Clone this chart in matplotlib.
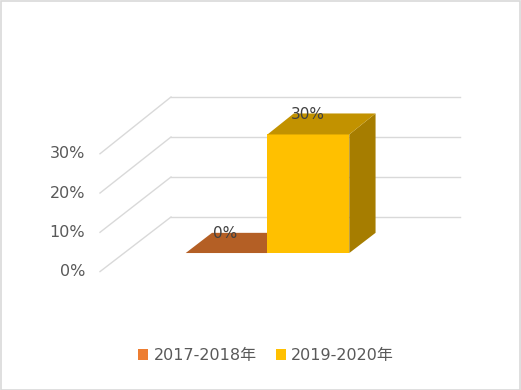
import matplotlib.pyplot as plt
from matplotlib.patches import Polygon, Patch, Rectangle
from matplotlib.colors import to_rgb

plt.rcParams['font.family'] = ['DejaVu Sans', 'Noto Sans CJK SC']

categories = ['2017-2018年', '2019-2020年']
values = [0.0, 0.30]
colors = ['#ED7D31', '#FFC000']
ticks = [0.0, 0.1, 0.2, 0.3]
tick_labels = ['0%', '10%', '20%', '30%']

# oblique projection: depth 0 = back wall, 1 = front edge
DZX = -0.2457
DZY = -0.1365
Z_BACK = 0.29
Z_FRONT = 0.66
BAR_LEFT = 0.213
BAR_W = 0.283
TEXT = '#595959'
GRID = '#D9D9D9'


def proj(x, v, z):
    # slight perspective: front plane is a little compressed vertically
    return x + z * DZX, v * (1 - 0.018 * z) + z * DZY


def shade(c, k):
    r, g, b = to_rgb(c)
    return (r * k, g * k, b * k)


fig = plt.figure(figsize=(5.21, 3.9), dpi=100)
ax = fig.add_axes([0, 0, 1, 1])
ax.set_xlim(-0.5917, 1.211)
ax.set_ylim(-0.4325, 0.5425)
ax.axis('off')

# back wall lines + side wall diagonals
for t, lab in zip(ticks, tick_labels):
    ax.plot([0, 1], [t, t], color=GRID, lw=1, zorder=1)
    fx, fy = proj(0, t, 1)
    ax.plot([0, fx], [t, fy], color=GRID, lw=1, zorder=1)
    ax.annotate(lab, (fx, fy), xytext=(-15, 0), textcoords='offset pixels',
                ha='right', va='center', fontsize=11.5, color=TEXT)

for i, (v, c) in enumerate(zip(values, colors)):
    x0 = BAR_LEFT + i * BAR_W
    x1 = x0 + BAR_W
    top = [proj(x0, v, Z_FRONT), proj(x1, v, Z_FRONT),
           proj(x1, v, Z_BACK), proj(x0, v, Z_BACK)]
    if v > 0:
        front = [proj(x0, 0, Z_FRONT), proj(x1, 0, Z_FRONT),
                 proj(x1, v, Z_FRONT), proj(x0, v, Z_FRONT)]
        side = [proj(x1, 0, Z_FRONT), proj(x1, 0, Z_BACK),
                proj(x1, v, Z_BACK), proj(x1, v, Z_FRONT)]
        ax.add_patch(Polygon(side, closed=True, fc=shade(c, 0.65), ec='none', zorder=3))
        ax.add_patch(Polygon(front, closed=True, fc=c, ec='none', zorder=3))
    ax.add_patch(Polygon(top, closed=True, fc=shade(c, 0.76), ec='none', zorder=3))
    lx, ly = proj((x0 + x1) / 2, v, Z_FRONT)
    ax.annotate(f'{v:.0%}', (lx, ly), xytext=(-1, 12), textcoords='offset pixels',
                ha='center', va='bottom', fontsize=11, color='#404040', zorder=5)

handles = [Patch(facecolor=c, edgecolor='none') for c in colors]
fig.legend(handles, categories, loc='center', bbox_to_anchor=(0.511, 0.088),
           ncol=2, frameon=False, fontsize=11.5, labelcolor=TEXT,
           handlelength=0.6, handleheight=0.6, handletextpad=0.35, columnspacing=1.2)

fig.add_artist(Rectangle((0.001, 0.001), 0.997, 0.996, transform=fig.transFigure,
                         fill=False, ec=GRID, lw=1.2))

fig.savefig('out.png', dpi=100)
